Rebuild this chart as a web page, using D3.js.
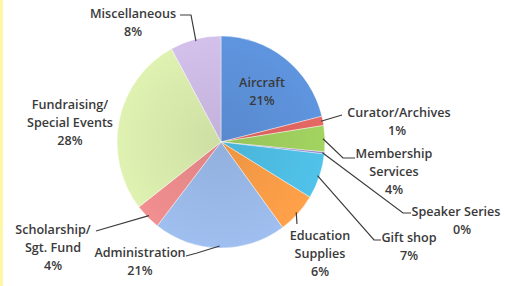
<!DOCTYPE html>
<html>
<head>
<meta charset="utf-8">
<script src="https://cdn.jsdelivr.net/npm/d3@7"></script>
<style>
  html, body { margin: 0; padding: 0; background: #fff; }
  svg { display: block; }
  text { font-family: "Open Sans", Lato, sans-serif; font-weight: 600; fill: #3a3a3a; font-size: 12.6px; }
</style>
</head>
<body>
<svg id="chart" width="508" height="286"></svg>
<script>
// ---- data ----
const categories = ["Aircraft", "Curator/Archives", "Membership Services", "Speaker Series", "Gift shop",
                    "Education Supplies", "Administration", "Scholarship/ Sgt. Fund", "Fundraising/ Special Events", "Miscellaneous"];
const values = [21.1, 1.4, 4.0, 0.3, 6.9, 6.2, 20.6, 4.0, 27.6, 7.9];
const percentLabels = ["21%", "1%", "4%", "0%", "7%", "6%", "21%", "4%", "28%", "8%"];
const labelLines = [["Aircraft"], ["Curator/Archives"], ["Membership", "Services"], ["Speaker Series"], ["Gift shop"],
                    ["Education", "Supplies"], ["Administration"], ["Scholarship/", "Sgt. Fund"], ["Fundraising/", "Special Events"], ["Miscellaneous"]];
const colors = ["#5b8fd6", "#dc6460", "#9ccb5c", "#8e7cc3", "#4dbbe0", "#f79a46", "#98b7e6", "#e8898a", "#d6e8aa", "#cab9e2"];

// ---- layout (positions, not data) ----
const cx = 221, cy = 142, R = 104;
const layout = [
  { x: 262, y: 87, leader: null },
  { x: 399, y: 117, leader: [[342, 115]] },
  { x: 394, y: 158, leader: [[343, 158], [355, 158]] },
  { x: 456, y: 216, leader: [[403, 213], [411, 213]] },
  { x: 409, y: 242, leader: [[374, 240], [381, 240]] },
  { x: 320, y: 240, leader: [[297, 224]] },
  { x: 140, y: 257, leader: [[197, 253], [186, 256]] },
  { x: 53, y: 234, leader: [[96, 231]] },
  { x: 70, y: 109, leader: null },
  { x: 133, y: 18, leader: [[191, 15], [180, 15]] }
];
const pctOffset = [0, -2, 0, 6, 0, 0, 0, 0, 0, 0];

const svg = d3.select("#chart");
svg.append("rect").attr("x", 0).attr("y", 0).attr("width", 3).attr("height", 286).attr("fill", "#fdf7a6");

const data = categories.map((c, i) => ({ cat: c, value: values[i], i }));
const pie = d3.pie().sort(null).value(d => d.value);
const arcs = pie(data);
const arc = d3.arc().innerRadius(0).outerRadius(R);

// subtle radial shading like the original
const defs = svg.append("defs");
colors.forEach((c, i) => {
  const rg = defs.append("radialGradient").attr("id", "grad" + i)
    .attr("gradientUnits", "userSpaceOnUse").attr("cx", 0).attr("cy", 0).attr("r", R);
  rg.append("stop").attr("offset", "0%").attr("stop-color", d3.color(c).darker(0.12));
  rg.append("stop").attr("offset", "100%").attr("stop-color", d3.color(c).brighter(0.12));
});

const g = svg.append("g").attr("transform", `translate(${cx},${cy}) scale(1,1.02)`);
g.selectAll("path.slice").data(arcs).join("path")
  .attr("class", "slice")
  .attr("d", arc)
  .attr("fill", d => `url(#grad${d.data.i})`)
  .attr("stroke", "#ffffff")
  .attr("stroke-width", 0.4);

const line = d3.line();
arcs.forEach(a => {
  const L = layout[a.data.i];
  if (!L.leader) return;
  const mid = (a.startAngle + a.endAngle) / 2;
  const start = [cx + (R - 2) * Math.sin(mid), cy - (R - 2) * 1.02 * Math.cos(mid)];
  svg.append("path")
    .attr("d", line([start, ...L.leader]))
    .attr("fill", "none")
    .attr("stroke", "#3c3c3c")
    .attr("stroke-width", 1.2);
});

arcs.forEach(a => {
  const i = a.data.i;
  const L = layout[i];
  const t = svg.append("text").attr("text-anchor", "middle");
  labelLines[i].forEach((s, k) => {
    t.append("tspan").attr("x", L.x).attr("y", L.y + k * 18).text(s);
  });
  t.append("tspan").attr("x", L.x + pctOffset[i]).attr("y", L.y + labelLines[i].length * 18).text(percentLabels[i]);
});
</script>
</body>
</html>
